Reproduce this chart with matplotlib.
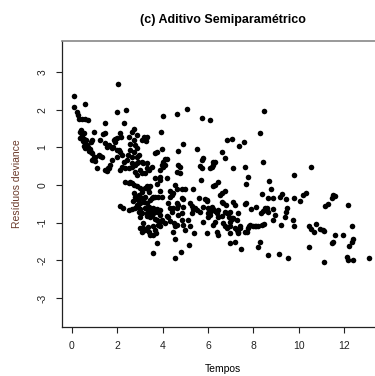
import numpy as np
import matplotlib
matplotlib.use("Agg")
import matplotlib.pyplot as plt

# Tempos e resíduos deviance
tempos = [
    0.09, 0.56, 0.10, 0.22, 0.26, 0.30, 0.44, 0.59, 0.71, 0.37, 0.44, 0.52, 0.40, 0.37, 0.52, 0.45, 0.48,
    0.59, 0.62, 0.66, 0.55, 0.59, 0.70, 0.74, 0.78, 0.82, 0.88, 0.96, 0.88, 0.96, 0.88, 0.85, 0.96,
    1.03, 1.03, 1.10, 1.18, 1.24, 1.32, 1.25, 1.44, 1.38, 1.47, 1.62, 1.54, 1.76, 1.84, 1.47, 1.99,
    1.99, 1.76, 1.69, 1.62, 1.47, 1.53, 1.91, 1.99, 1.90, 1.80, 1.97, 1.60,
    2.03, 2.38, 2.28, 2.06, 2.13, 2.21, 2.13, 2.15, 2.50, 2.65, 2.72, 2.57, 2.79, 2.87, 2.72, 2.56,
    2.48, 2.94, 2.65, 2.43, 2.28, 2.21, 2.13, 2.35, 2.65, 2.87, 2.93, 2.88, 2.78, 2.63, 2.53, 2.79,
    2.85, 2.87, 2.72, 2.35, 2.50, 2.56, 2.63, 2.72, 2.87, 2.72, 2.79, 2.94, 2.68, 2.93, 2.87, 2.13,
    2.26, 2.50, 2.65, 2.79, 2.94, 2.93,
    3.09, 3.16, 3.29, 3.26, 3.93, 4.00, 3.09, 3.15, 3.01, 3.07, 3.23, 3.31, 3.38, 3.29, 3.51, 3.73,
    3.66, 3.96, 4.03, 3.96, 3.88, 4.03, 3.88, 3.66, 3.73, 3.88, 3.22, 3.01, 3.38, 3.31, 3.45, 3.07,
    3.37, 3.09, 3.23, 3.16, 3.01, 3.31, 3.38, 3.45, 3.00, 3.22, 3.37, 3.09, 3.31, 3.45, 3.51, 3.59,
    3.66, 3.81, 3.96, 3.88, 3.59, 3.73, 3.88, 3.66, 3.51, 3.29, 3.00, 3.15, 3.00, 3.15, 3.09, 3.23,
    3.38, 3.45, 3.37, 3.59, 3.69, 3.66, 3.73, 3.88, 3.96, 3.88, 3.76, 3.59, 3.44, 3.66, 3.81, 3.59,
    3.59, 3.88, 3.81, 3.51,
    4.62, 4.91, 4.69, 4.10, 4.18, 4.10, 4.69, 4.76, 4.62, 4.76, 4.18, 4.54, 4.62, 4.84, 4.98, 4.32,
    4.40, 4.47, 4.32, 4.84, 4.91, 4.62, 4.69, 4.25, 4.32, 4.47, 4.40, 4.62, 4.91, 4.84, 4.69, 4.18,
    4.25, 4.32, 4.10, 4.50, 4.54, 4.47, 4.62, 4.84, 4.91, 4.98, 4.54, 4.81, 4.54,
    5.06, 5.73, 6.09, 5.53, 5.72, 5.79, 5.65, 5.72, 5.68, 5.35, 5.20, 5.28, 5.32, 5.62, 5.87, 5.97,
    5.50, 5.65, 6.01, 6.09, 5.79, 5.94, 5.43, 5.13, 5.20, 5.28, 5.40, 5.18, 5.79, 5.94, 6.01, 6.01,
    6.09,
    6.16, 6.23, 6.38, 6.45, 6.60, 6.75, 6.82, 6.97, 6.45, 6.31, 6.53, 6.60, 6.75, 6.60, 6.65, 6.79,
    6.23, 6.31, 6.45, 6.16, 6.23, 6.09, 6.31, 6.23, 6.60, 6.75, 6.82, 7.04, 6.31, 6.23, 6.67, 6.75,
    6.97, 6.38, 6.45, 6.94, 7.04, 6.97, 6.82, 6.97, 6.97,
    7.12, 7.37, 7.59, 7.65, 7.76, 7.69, 7.12, 7.19, 7.04, 7.12, 7.29, 7.19, 7.26, 7.34, 7.41, 7.19,
    7.47, 7.32, 7.62, 7.69, 7.88, 7.40, 7.32, 7.65, 7.71, 7.76, 7.84, 7.99, 7.82,
    8.47, 8.28, 8.43, 8.68, 8.80, 8.40, 8.88, 8.66, 8.13, 8.35, 8.43, 8.50, 8.61, 8.65, 8.87, 8.94,
    8.87, 8.38, 8.47, 8.13, 8.22, 8.07, 8.28, 8.20, 8.65,
    9.16, 9.25, 9.43, 9.50, 9.45, 9.38, 9.23, 9.75, 9.79, 9.78, 9.79, 9.13, 9.53,
    10.04, 10.19, 10.31, 10.53, 10.45, 10.56, 10.78, 10.69, 10.93, 11.07, 11.12, 10.44, 11.12, 11.17,
    11.31, 11.46, 11.53, 11.60, 11.60, 11.53, 11.46, 11.97, 12.19, 12.34, 12.41, 12.34, 12.23, 12.12,
    12.19, 12.38, 13.10,
]
residuos = [
    2.37, 2.15, 2.06, 1.94, 1.86, 1.75, 1.74, 1.75, 1.72, 1.41, 1.33, 1.37, 1.46, 1.24, 1.21, 1.28, 1.16,
    1.11, 1.20, 1.07, 1.04, 0.98, 1.00, 0.91, 0.95, 0.88, 0.84, 0.75, 0.66, 1.41, 1.19, 1.15, 0.70,
    0.75, 0.64, 0.44, 0.80, 0.77, 0.75, 1.19, 1.37, 1.34, 1.11, 1.07, 1.02, 0.97, 1.19, 1.64, 1.94,
    0.75, 0.66, 0.53, 0.44, 0.40, 0.37, 1.15, 1.24, 1.22, 1.02, 0.93, 0.46,
    2.67, 1.99, 1.65, 0.93, 0.88, 0.80, 1.37, 1.28, 1.28, 1.41, 1.19, 1.10, 1.06, 0.97, 0.88, 0.93,
    0.80, 0.80, 0.75, 0.66, 0.62, 0.49, 0.40, 0.44, 0.57, 0.57, 0.62, 0.73, 0.53, 0.49, 0.44, 0.35,
    0.27, 1.33, 1.48, 0.09, 0.04, 0.09, 0.04, 0.00, -0.04, -0.22, -0.31, -0.27, -0.42, -0.40, -0.53, -0.56,
    -0.62, -0.66, -0.64, -0.62, -0.71, -0.58,
    1.19, 1.28, 1.28, 1.17, 1.41, 1.82, 0.62, 0.57, 0.40, 0.31, 0.31, 0.57, 0.40, 0.44, 0.49, 0.88,
    0.84, 0.95, 0.47, 0.53, 0.40, 0.62, 0.22, 0.18, 0.03, 0.13, -0.09, -0.09, -0.18, -0.04, -0.04, -0.18,
    -0.11, -0.35, -0.31, -0.44, -0.49, -0.49, -0.58, -0.40, -0.64, -0.62, -0.66, -0.75, -0.75, -0.71, -0.35, -0.33,
    -0.31, -0.33, -0.33, -0.15, -0.62, -0.64, -0.66, -0.71, -0.80, -0.82, -0.84, -1.00, -1.15, -1.15, -1.24, -1.19,
    -1.24, -1.33, -1.12, -1.33, -1.28, -1.19, -0.93, -0.97, -0.93, -1.10, -1.53, -1.81, -0.84, -0.91, -1.06, -1.10,
    -0.75, -0.80, -0.71, -0.64,
    1.87, 1.10, 0.90, 0.69, 0.69, 0.53, 0.53, 0.47, 0.35, 0.31, 0.18, 0.00, -0.10, -0.11, -0.11, -0.31,
    -0.27, -0.22, -0.15, -0.35, -0.38, -0.49, -0.53, -0.49, -0.60, -0.62, -0.71, -0.62, -0.58, -0.75, -0.80, -0.82,
    -0.86, -0.95, -1.02, -1.00, -1.10, -1.24, -1.06, -0.93, -1.06, -1.19, -1.44, -1.77, -1.94,
    2.02, 1.77, 1.72, 0.95, 0.66, 0.71, 0.50, 0.44, 0.13, -0.11, -0.47, -0.56, -0.64, -0.35, -0.38, -0.42,
    -0.66, -0.73, -0.62, -0.71, -0.58, -0.40, -0.62, -0.93, -1.10, -0.75, -1.28, -1.59, -0.97, -1.28, -0.84, -0.75,
    -0.80,
    -0.58, -0.64, -0.75, -0.84, -0.82, -0.71, -0.75, -0.71, -0.66, -0.68, -0.27, -0.22, -0.15, -0.44, -0.49, -0.53,
    -0.04, -0.01, 0.09, 0.49, 0.62, 0.44, 0.62, 0.53, 0.88, 0.72, 1.19, 1.21, -0.97, -1.06, -1.02, -1.10,
    -1.10, -1.24, -1.33, -0.84, -0.91, -0.97, -1.15, -1.28, -1.53,
    0.44, 1.03, 1.13, 0.49, 0.22, 0.03, -0.44, -0.53, -0.88, -0.88, -0.93, -1.15, -1.19, -1.28, -1.10, -1.50,
    -1.71, -0.75, -0.50, -0.47, -0.64, -1.15, -1.24, -1.24, -1.24, -1.15, -1.06, -1.10, -1.10,
    1.97, 1.39, 0.62, 0.10, -0.11, -0.25, -0.35, -0.35, -0.58, -0.75, -0.69, -0.62, -0.62, -0.71, -0.64, -0.80,
    -0.93, -1.06, -1.04, -1.10, -1.10, -1.10, -1.50, -1.64, -1.86,
    -0.33, -0.24, -0.37, -0.62, -0.73, -0.84, -1.06, -0.93, -1.08, 0.27, -0.35, -1.83, -1.93,
    -0.42, -0.27, -0.22, 0.47, -1.10, -1.18, -1.03, -1.24, -1.18, -1.19, -1.21, -1.65, -2.05, -0.56,
    -0.50, -0.35, -0.27, -0.28, -1.33, -1.50, -1.55, -1.33, -0.53, -1.09, -1.44, -1.50, -1.62, -1.90,
    -1.99, -1.99, -1.95,
]

x_ticks = [0, 2, 4, 6, 8, 10, 12]
y_ticks = [-3, -2, -1, 0, 1, 2, 3]

plt.rcParams['font.family'] = ['Liberation Sans', 'DejaVu Sans']

fig = plt.figure(figsize=(3.75, 3.76), dpi=100)
ax = fig.add_axes([62 / 375, 49.3 / 376, 321 / 375, 285.7 / 376])

ax.scatter(tempos, residuos, s=16, color='black', linewidths=0)

ax.set_xlim(-0.44, 13.72)
ax.set_ylim(-3.76, 3.82)
ax.set_xticks(x_ticks)
ax.set_yticks(y_ticks)
ax.set_yticklabels([str(v) for v in y_ticks], rotation=90, va='center')
ax.tick_params(direction='out', length=4.5, width=0.8, labelsize=7.5, colors='#222222', pad=6)

for s in ['left', 'bottom']:
    ax.spines[s].set_color('#222222')
    ax.spines[s].set_linewidth(0.9)
ax.spines['top'].set_color('#888888')
ax.spines['top'].set_linewidth(1.2)
ax.spines['right'].set_visible(False)

ax.set_title("(c) Aditivo Semiparamétrico", fontsize=9, fontweight='bold', pad=13)
ax.set_xlabel("Tempos", fontsize=7.5, labelpad=9)
ax.set_ylabel("Resíduos deviance", fontsize=7.5, color='#6b3a2a', labelpad=11)

fig.savefig("out.png", dpi=100)
